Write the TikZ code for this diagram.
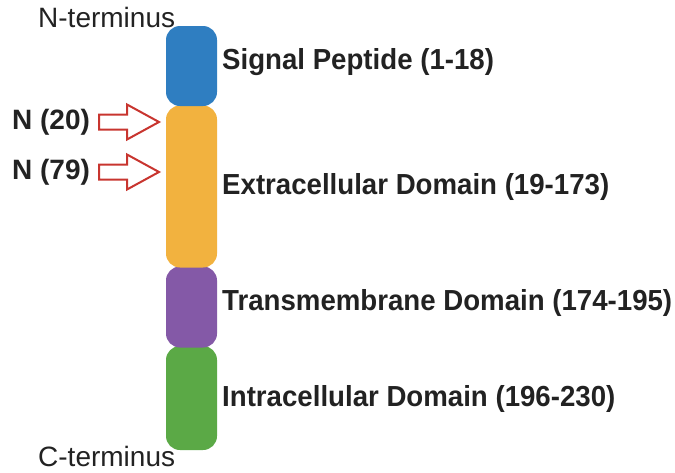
\documentclass[tikz,border=0pt]{standalone}
\usepackage{fontspec}
\setmainfont{Liberation Sans}
\definecolor{sigblue}{HTML}{2F7EC1}
\definecolor{extorange}{HTML}{F2B23F}
\definecolor{tmpurple}{HTML}{8459A7}
\definecolor{icgreen}{HTML}{5BA946}
\definecolor{arrred}{HTML}{C8352F}
\definecolor{txt}{HTML}{222222}
\newcommand{\narrowtxt}[1]{\scalebox{0.953}[1]{#1}}
\begin{document}
\begin{tikzpicture}[x=1pt,y=-1pt,
  protbox/.style={draw=none, rounded corners=14pt, minimum width=51pt, inner sep=0pt},
  dlabel/.style={anchor=west, inner sep=0pt, text=txt, font=\fontsize{29}{33}\selectfont\bfseries},
  tlabel/.style={anchor=west, inner sep=0pt, text=txt, font=\fontsize{28}{32}\selectfont},
  nlabel/.style={anchor=west, inner sep=0pt, text=txt, font=\fontsize{28}{32}\selectfont\bfseries},
  blockarrow/.style={draw=arrred, fill=white, line width=2pt, line join=miter}]
\useasboundingbox (0,0) rectangle (675,472);
% domains
\node[protbox, fill=icgreen, minimum height=104pt] (ic) at (191.5,398) {};
\node[protbox, fill=tmpurple, minimum height=81pt] (tm) at (191.5,307) {};
\node[protbox, fill=extorange, minimum height=162pt] (ec) at (191.5,186.5) {};
\node[protbox, fill=sigblue, minimum height=80pt] (sp) at (191.5,66) {};
% labels
\node[dlabel] (lsp) at (222,62) {\narrowtxt{Signal Peptide (1-18)}};
\node[dlabel] (lec) at (222,187) {\narrowtxt{Extracellular Domain (19-173)}};
\node[dlabel] (ltm) at (222,303) {\narrowtxt{Transmembrane Domain (174-195)}};
\node[dlabel] (lic) at (222,399) {\narrowtxt{Intracellular Domain (196-230)}};
\node[tlabel] (nt) at (38,17) {N-terminus};
\node[tlabel] (ct) at (38,456) {C-terminus};
\node[nlabel] (n20) at (12,122) {N (20)};
\node[nlabel] (n79) at (12,172) {N (79)};
% arrows
\draw[blockarrow] (99,114.5) -- (127,114.5) -- (127,104.5) -- (159,122) -- (127,139.5) -- (127,129.5) -- (99,129.5) -- cycle;
\draw[blockarrow] (99,164.5) -- (127,164.5) -- (127,154.5) -- (159,172) -- (127,189.5) -- (127,179.5) -- (99,179.5) -- cycle;
\end{tikzpicture}
\end{document}
